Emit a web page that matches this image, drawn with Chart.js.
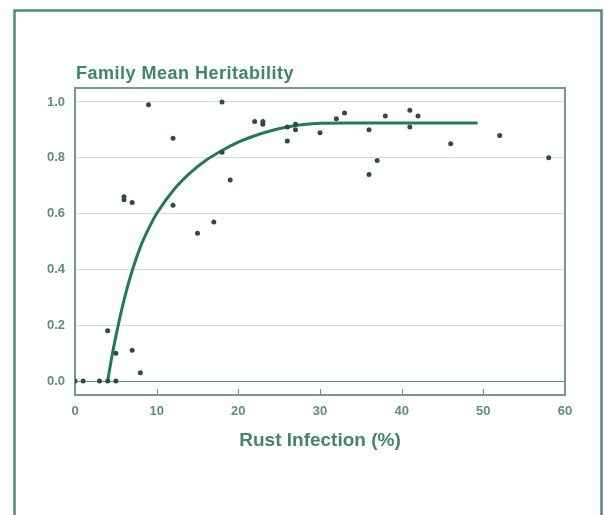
<!DOCTYPE html>
<html lang="en">
<head>
  <meta charset="UTF-8" />
  <title>Family Mean Heritability</title>
  <style>
    body {
      margin: 0;
      background: #ffffff;
    }
    #chart {
      display: block;
    }
  </style>
</head>
<body>
  <canvas id="chart" width="604" height="515"></canvas>
  <script src="https://cdn.jsdelivr.net/npm/chart.js"></script>
  <script>
    // observed families: rust infection (%) and heritability
    const pointX = [0, 1, 3, 4, 5, 4, 5, 7, 8, 6, 6, 7, 9, 12, 12, 15, 17, 18, 18, 19,
                    22, 23, 23, 26, 26, 27, 27, 30, 32, 33, 36, 36, 37, 38, 41, 41, 42, 46, 52, 58];
    const pointY = [0, 0, 0, 0, 0, 0.18, 0.10, 0.11, 0.03, 0.66, 0.65, 0.64, 0.99, 0.87, 0.63, 0.53, 0.57, 1.00, 0.82, 0.72,
                    0.93, 0.93, 0.92, 0.91, 0.86, 0.92, 0.90, 0.89, 0.94, 0.96, 0.90, 0.74, 0.79, 0.95, 0.97, 0.91, 0.95, 0.85, 0.88, 0.80];

    // fitted curve
    const curveX = [4, 4.5, 5, 6, 7, 8, 9, 10, 12, 14, 16, 18, 20, 22, 24, 26, 28, 30, 33, 49.3];
    const curveY = [0, 0.085, 0.16, 0.29, 0.395, 0.48, 0.545, 0.60, 0.682, 0.743, 0.79, 0.826, 0.856, 0.879, 0.897, 0.910, 0.919, 0.924, 0.925, 0.925];

    const xTicks = [0, 10, 20, 30, 40, 50, 60];
    const yTicks = [0, 0.2, 0.4, 0.6, 0.8, 1.0];

    const chartTitle = "Family Mean Heritability";
    const xTitle = "Rust Infection (%)";

    const frameColor = "#4f8c7b";
    const labelColor = "#5e8e7e";
    const fontFamily = "'Liberation Sans', Arial, sans-serif";

    const decorations = {
      id: "decorations",
      beforeDraw(chart) {
        const ctx = chart.ctx;
        ctx.save();
        ctx.fillStyle = "#ffffff";
        ctx.fillRect(0, 0, chart.width, chart.height);
        // outer box
        ctx.strokeStyle = frameColor;
        ctx.lineWidth = 2.5;
        ctx.strokeRect(14.5, 10.5, 587, 540);
        // title
        ctx.fillStyle = "#3a8866";
        ctx.font = "bold 18px " + fontFamily;
        ctx.letterSpacing = "0.5px";
        ctx.textBaseline = "alphabetic";
        ctx.fillText(chartTitle, chart.chartArea.left + 1, 79);
        ctx.restore();
      },
      beforeDatasetsDraw(chart) {
        const ctx = chart.ctx;
        const a = chart.chartArea;
        const xs = chart.scales.x;
        ctx.save();
        ctx.strokeStyle = "#78998f";
        ctx.lineWidth = 2;
        ctx.strokeRect(a.left, a.top, a.right - a.left, a.bottom - a.top);
        ctx.lineWidth = 1.2;
        xTicks.slice(1, -1).forEach(v => {
          const px = Math.round(xs.getPixelForValue(v)) + 0.5;
          ctx.beginPath();
          ctx.moveTo(px, a.bottom);
          ctx.lineTo(px, a.bottom - 6);
          ctx.stroke();
        });
        ctx.restore();
      }
    };

    const points = pointX.map((x, i) => ({ x: x, y: pointY[i] }));
    const curve = curveX.map((x, i) => ({ x: x, y: curveY[i] }));

    new Chart(document.getElementById("chart"), {
      type: "scatter",
      data: {
        datasets: [
          {
            type: "line",
            data: curve,
            borderColor: "#237a5a",
            borderWidth: 3,
            pointRadius: 0,
            cubicInterpolationMode: "monotone",
            fill: false,
            order: 2
          },
          {
            data: points,
            backgroundColor: "#2f4c44",
            borderWidth: 0,
            pointRadius: 2.5,
            order: 1
          }
        ]
      },
      options: {
        responsive: false,
        animation: false,
        layout: {
          padding: { left: 0, top: 88, right: 39, bottom: 63 }
        },
        plugins: {
          legend: { display: false },
          tooltip: { enabled: false }
        },
        scales: {
          x: {
            type: "linear",
            min: 0,
            max: 60,
            afterBuildTicks: s => { s.ticks = xTicks.map(v => ({ value: v })); },
            afterFit: s => { s.height = 57; },
            grid: { display: false, drawTicks: false },
            border: { display: false },
            ticks: {
              padding: 9,
              color: labelColor,
              font: { family: fontFamily, size: 13, weight: "bold" }
            },
            title: {
              display: true,
              text: xTitle,
              color: "#43846f",
              padding: 0,
              font: { family: fontFamily, size: 19, weight: "bold" }
            }
          },
          y: {
            type: "linear",
            min: -0.05,
            max: 1.05,
            afterBuildTicks: s => { s.ticks = yTicks.map(v => ({ value: v })); },
            afterFit: s => { s.width = 75; },
            grid: {
              drawTicks: false,
              lineWidth: 1,
              color: c => (c.tick && c.tick.value === 0 ? "#5f8f82" : "#d3dcd8")
            },
            border: { display: false },
            ticks: {
              padding: 10,
              color: labelColor,
              callback: v => v.toFixed(1),
              font: { family: fontFamily, size: 13, weight: "bold" }
            }
          }
        }
      },
      plugins: [decorations]
    });
  </script>
</body>
</html>
